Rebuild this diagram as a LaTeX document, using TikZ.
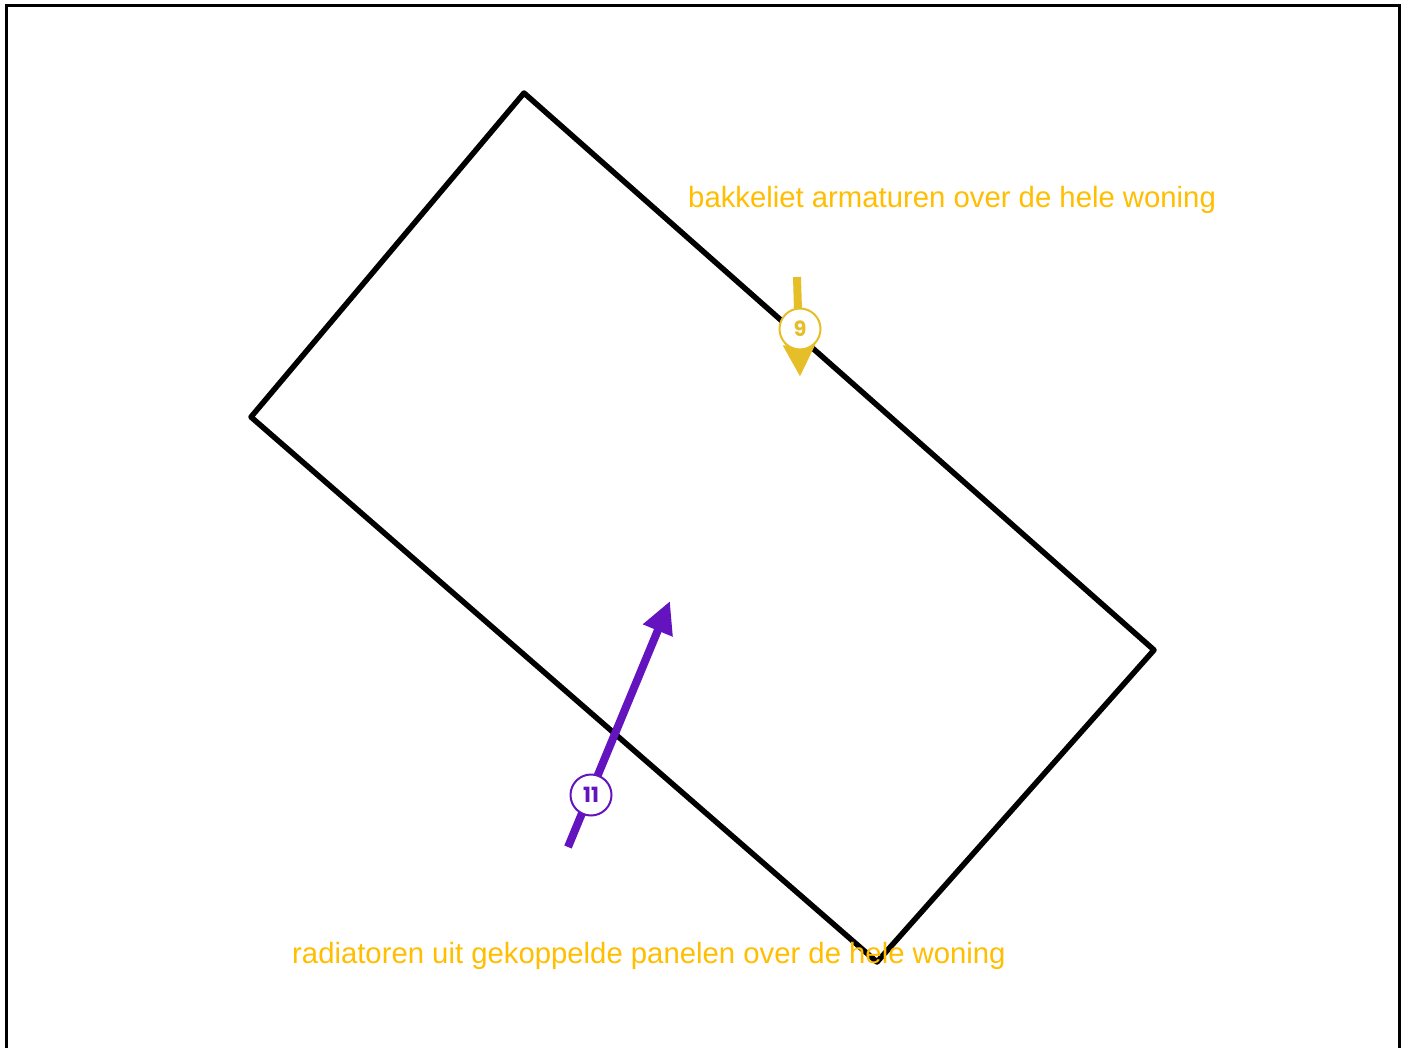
\documentclass[tikz,border=0pt]{standalone}
\usepackage{fontspec}
\setmainfont{Liberation Sans}
\newfontfamily\numfont{Poppins}
\usetikzlibrary{arrows.meta}
\definecolor{ylw}{RGB}{230,190,40}
\definecolor{ytxt}{RGB}{255,190,0}
\definecolor{prp}{RGB}{100,20,190}
\tikzset{
  wall/.style={line width=5.5pt, line join=round, line cap=round},
  frameline/.style={line width=3pt},
  arr/.style={line width=8pt, -{Triangle[length=32pt,width=30pt]}},
  badge/.style={circle, fill=white, line width=2pt, minimum size=41pt, inner sep=0pt, font=\numfont\bfseries\fontsize{21}{23}\selectfont},
  lbl/.style={text=ytxt, font=\fontsize{29.3}{34}\selectfont, inner sep=0pt, anchor=base west}
}
\begin{document}
\begin{tikzpicture}[x=1pt,y=-1pt]
\useasboundingbox (0,0) rectangle (1405,1048);
\fill[white] (0,0) rectangle (1405,1048);
\draw[frameline] (6.5,1050) -- (6.5,5.5) -- (1399.5,5.5) -- (1399.5,1050);
% building outline
\coordinate (c1) at (524,93);
\coordinate (c2) at (1154,650);
\coordinate (c3) at (877,962);
\coordinate (c4) at (251,417);
\draw[wall] (c1) -- (c2) -- (c3) -- (c4) -- cycle;
% labels
\node[lbl] (t1) at (688,208) {bakkeliet armaturen over de hele woning};
\node[lbl] (t2) at (292,963) {radiatoren uit gekoppelde panelen over de hele woning};
% arrow 9
\coordinate (a9s) at (797,277);
\coordinate (a9e) at (800,377);
\draw[arr, draw=ylw, fill=ylw] (a9s) -- (a9e);
\node[badge, draw=ylw, text=ylw] (b9) at (800,329) {9};
% arrow 11
\coordinate (a11s) at (568,847);
\coordinate (a11e) at (670,601);
\draw[arr, draw=prp, fill=prp] (a11s) -- (a11e);
\node[badge, draw=prp, text=prp] (b11) at (591,795) {11};
\end{tikzpicture}
\end{document}
